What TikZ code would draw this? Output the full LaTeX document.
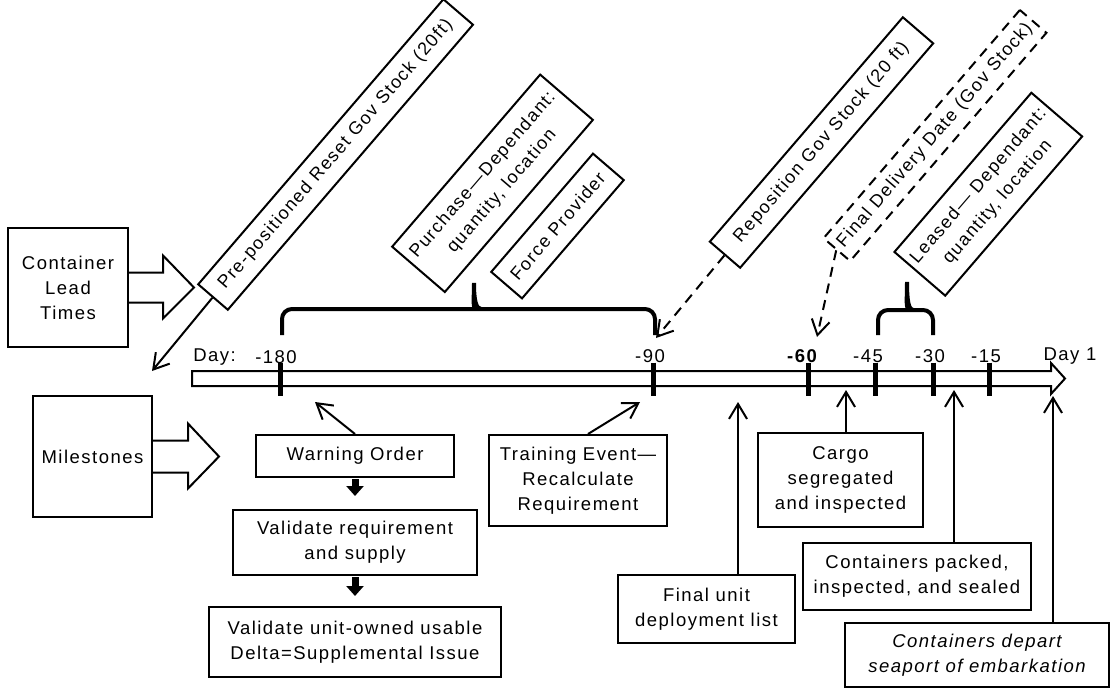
\documentclass[tikz,border=0pt]{standalone}
\usepackage{fontspec}
\setmainfont{Liberation Sans}[LetterSpace=8]
\usetikzlibrary{arrows.meta,calc}
\begin{document}
\begin{tikzpicture}[x=1pt,y=-1pt,
  every node/.style={font=\fontsize{18.5}{25}\selectfont},
  box/.style={draw, line width=2pt, align=center, inner sep=0pt},
  rbox/.style={box, rotate=49.3, font=\fontsize{18}{25}\selectfont},
  arr/.style={line width=2pt, -{Straight Barb[length=15pt,width=18pt]}},
  darr/.style={arr, dash pattern=on 10pt off 7pt},
  tickmark/.style={line width=5pt},
  bracepath/.style={line width=4pt},
  fatarr/.style={line width=7pt, -{Triangle[length=10pt,width=17pt]}},
  hollow/.style={line width=2pt, line join=miter},
  lbl/.style={inner sep=0pt}
]
\useasboundingbox (0,0) rectangle (1112,689);

% side boxes
\node[box, minimum width=120pt, minimum height=119pt] (cl) at (68,287.5) {Container\\Lead\\Times};
\node[box, minimum width=119pt, minimum height=121pt] (ms) at (92.5,456.5) {Milestones};
\draw[hollow] ($(cl.east)+(0,-15)$) -- ++(34,0) -- ++(0,-17) -- ($(cl.east)+(65,0)$) -- ($(cl.east)+(34,31)$) -- ($(cl.east)+(34,15)$) -- ($(cl.east)+(0,15)$);
\draw[hollow] ($(ms.east)+(0,-16)$) -- ++(35,0) -- ++(0,-17) -- ($(ms.east)+(66,0)$) -- ($(ms.east)+(35,32)$) -- ($(ms.east)+(35,16)$) -- ($(ms.east)+(0,16)$);

% timeline
\draw[hollow] (192,371) -- (1051,371) -- (1051,363) -- (1065,378.5) -- (1051,394) -- (1051,386) -- (192,386) -- cycle;
\foreach \n/\x in {t180/280, t90/653, t60/808, t45/875, t30/933, t15/989}{
  \coordinate (\n) at (\x,378.5);
  \draw[tickmark] ($(\n)+(0,-16)$) -- ($(\n)+(0,17.5)$);
}
\node[lbl] (day) at (214.5,357) {Day:};
\node[lbl] (l180) at (276,357) {-180};
\node[lbl] (l90) at (650,356) {-90};
\node[lbl] (l60) at (802,356) {\bfseries -60};
\node[lbl] (l45) at (868,356) {-45};
\node[lbl] (l30) at (930,356) {-30};
\node[lbl] (l15) at (986,356) {-15};
\node[lbl] (lday1) at (1070,356) {Day 1};

% braces
\draw[bracepath] ($(t180)+(2,-43.5)$) [rounded corners=10pt] -- ($(t180)+(2,-69.5)$) -- (467,309) [sharp corners] .. controls (472,309) and (474,300) .. (474,283) .. controls (474,300) and (476,309) .. (481,309) [rounded corners=10pt] -- ($(t90)+(2,-69.5)$) -- ($(t90)+(2,-43.5)$);
\draw[bracepath] ($(t45)+(3,-43.5)$) [rounded corners=10pt] -- ($(t45)+(3,-68.5)$) -- (901,310) [sharp corners] .. controls (905,310) and (907,302) .. (907,282) .. controls (907,302) and (909,310) .. (913,310) [rounded corners=10pt] -- ($(t30)+(0,-68.5)$) -- ($(t30)+(0,-43.5)$);

% rotated boxes
\node[rbox, minimum width=376pt, minimum height=39pt] (pp) at (335.6,154.5) {Pre-positioned Reset Gov Stock (20ft)};
\node[rbox, minimum width=227pt, minimum height=69.5pt] (pu) at (492.5,183.3) {Purchase—Dependant:\\quantity, location};
\node[rbox, minimum width=156pt, minimum height=40.6pt] (fp) at (557.5,226) {Force Provider};
\node[rbox, minimum width=296pt, minimum height=40pt] (rp) at (821.5,142.5) {Reposition Gov Stock (20 ft)};
\node[rbox, dash pattern=on 10pt off 7pt, minimum width=301pt, minimum height=35pt] (fd) at (935,135.5) {Final Delivery Date (Gov Stock)};
\node[rbox, minimum width=210pt, minimum height=67pt] (ls) at (988.3,194.2) {Leased— Dependant:\\quantity, location};

\coordinate (ppT) at (152,371);
\coordinate (rpT) at (656,338);
\coordinate (fdT) at (817,337);
\draw[arr] (pp.west) -- (ppT);
\draw[darr] (rp.west) -- (rpT);
\draw[darr] (fd.west) -- (fdT);

% lower boxes
\node[box, minimum width=198pt, minimum height=42pt] (wo) at (355,456) {Warning Order};
\node[box, minimum width=244pt, minimum height=65pt] (vr) at (355,542.5) {Validate requirement\\and supply};
\node[box, minimum width=292pt, minimum height=70pt] (vu) at (355,642) {Validate unit-owned usable\\Delta=Supplemental Issue};
\node[box, minimum width=178pt, minimum height=91pt] (te) at (578,480.5) {Training Event—\\Recalculate\\Requirement};
\node[box, minimum width=177pt, minimum height=68pt] (fu) at (706.5,609) {Final unit\\deployment list};
\node[box, minimum width=165pt, minimum height=94pt] (cg) at (840.5,480) {Cargo\\segregated\\and inspected};
\node[box, minimum width=228pt, minimum height=67pt] (cp) at (917,576.5) {Containers packed,\\inspected, and sealed};
\node[box, minimum width=264pt, minimum height=64pt, font=\fontsize{18.5}{25}\selectfont\itshape] (cd) at (977,655) {Containers depart\\seaport of embarkation};

\draw[fatarr, shorten >=13pt, shorten <=1pt] (wo.south) -- (vr.north);
\draw[fatarr, shorten >=10pt, shorten <=1pt] (vr.south) -- (vu.north);

\coordinate (woT) at (315,402);
\coordinate (teT) at (640,402);
\coordinate (fuT) at (738,402);
\coordinate (cgT) at (846,390);
\coordinate (cpT) at (954,390);
\coordinate (cdT) at (1053,396);
\draw[arr] (wo.north) -- (woT);
\draw[arr] ($(te.north)+(10,0)$) -- (teT);
\draw[arr] (fu.north -| fuT) -- (fuT);
\draw[arr] (cg.north -| cgT) -- (cgT);
\draw[arr] (cp.north -| cpT) -- (cpT);
\draw[arr] (cd.north -| cdT) -- (cdT);
\end{tikzpicture}
\end{document}
